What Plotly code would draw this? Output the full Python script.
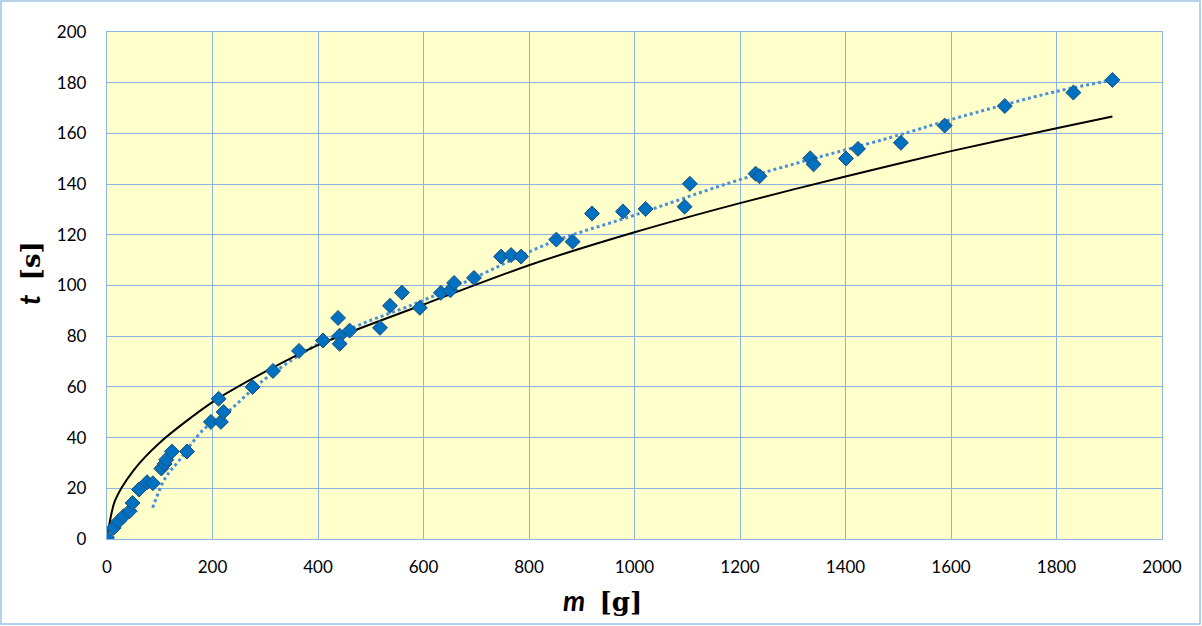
import plotly.graph_objects as go

# measured data: mass m [g] and time t [s]
m_data = [0, 12.5, 22, 31.5, 43, 48.5, 60.6, 76, 87, 103, 109, 112.4, 123, 151.7,
          197, 211.6, 216, 221, 276, 314.7, 364, 409.5, 438, 441, 441, 460,
          517.5, 536.5, 559, 593, 633, 651, 658, 695.7, 747, 766, 785,
          851.8, 882.7, 919.4, 978, 1021, 1095, 1105, 1229.6, 1237,
          1333, 1339.5, 1401, 1423.7, 1505, 1588, 1702, 1832, 1906]
t_data = [0.5, 4.4, 7, 9, 11, 14.2, 19.5, 22.4, 22, 27.8, 29.6, 31.3, 34.5, 34.5,
          46.2, 55.3, 46.2, 50.1, 60, 66.3, 74.2, 78.3, 87.2, 80.2, 77, 82.2,
          83.3, 92, 97.2, 91.2, 97.1, 98.1, 101, 103, 111.4, 112, 111.4,
          118.1, 117.3, 128.4, 129.2, 130.2, 131.1, 140.1, 144.1, 143.1,
          150.2, 147.8, 150.1, 153.9, 156.3, 163.1, 170.8, 176.1, 181.1]

# black model curve
m_model = [0, 15, 50, 100, 200, 300, 400, 600, 800, 1000, 1200, 1400, 1600, 1800, 1906]
t_model = [0, 15, 27, 38, 54, 66, 76.5, 92.5, 108, 121, 132.5, 143, 153, 162, 166.7]

# dotted trend curve
m_trend = [86.5, 110.5, 135.7, 183, 233.7, 293.8, 398, 480, 587.7, 688.7, 840,
           998, 1200.6, 1504, 1598.7, 1801, 1906]
t_trend = [12.3, 24.1, 30.7, 43.2, 51, 62.2, 76.7, 84.6, 93.1, 102.3, 116.8,
           127.6, 141.8, 159.5, 165.4, 176.6, 181]

x_ticks = list(range(0, 2001, 200))
y_ticks = list(range(0, 201, 20))

grid_col = "#8DB4E2"
fig = go.Figure()
fig.add_trace(go.Scatter(x=m_trend, y=t_trend, mode="lines",
                         line=dict(color="#4A90D9", width=3, dash="dot", shape="spline"),
                         showlegend=False, hoverinfo="skip"))
fig.add_trace(go.Scatter(x=m_model, y=t_model, mode="lines",
                         line=dict(color="black", width=2, shape="spline", smoothing=0.8),
                         showlegend=False))
fig.add_trace(go.Scatter(x=m_data, y=t_data, mode="markers",
                         marker=dict(symbol="diamond", size=11.5, color="#0070C0",
                                     line=dict(color="#1F4E79", width=1)),
                         showlegend=False))

L, R, T, B = 107, 40, 32, 87
W, H = 1202, 626
pw, ph = W - L - R, H - T - B


def px_x(p):
    return (p - L) / pw


def px_y(p):
    return (H - B - p) / ph


title_x = ("<b><i>m</i></b>\u00a0\u00a0"
           "<span style='font-family:DejaVu Serif;font-size:26px'><b>[g]</b></span>")
title_y = ("<b><i>t</i></b>\u00a0\u00a0"
           "<span style='font-family:DejaVu Serif;font-size:26px'><b>[s]</b></span>")

fig.update_layout(
    width=W, height=H,
    margin=dict(l=L, r=R, t=T, b=B, autoexpand=False),
    paper_bgcolor="white", plot_bgcolor="#FFFFCC",
    font=dict(family="Lato, Open Sans, sans-serif", size=17, color="black"),
    xaxis=dict(range=[0, 2000], tickvals=x_ticks, ticktext=[str(v) for v in x_ticks],
               showgrid=True, gridcolor=grid_col, gridwidth=1.3,
               showline=True, linecolor=grid_col, linewidth=1.3, mirror=True,
               zeroline=False, ticks="", ticklabelstandoff=12),
    yaxis=dict(range=[0, 200], tickvals=y_ticks, ticktext=[str(v) for v in y_ticks],
               showgrid=True, gridcolor=grid_col, gridwidth=1.3,
               showline=True, linecolor=grid_col, linewidth=1.3, mirror=True,
               zeroline=False, ticks="", ticklabelstandoff=16),
    annotations=[
        dict(text=title_x, xref="paper", yref="paper", x=px_x(602), y=px_y(600),
             xanchor="center", yanchor="middle", showarrow=False, font=dict(size=28)),
        dict(text=title_y, xref="paper", yref="paper", x=px_x(29), y=px_y(273),
             xanchor="center", yanchor="middle", showarrow=False, textangle=-90,
             font=dict(size=28)),
    ],
    shapes=[dict(type="rect", xref="paper", yref="paper",
                 x0=(1 - L) / pw, x1=(W - 2 - L) / pw,
                 y0=(H - B - (H - 2)) / ph, y1=(H - B - 1) / ph,
                 line=dict(color="#9DC3E6", width=1.5), layer="above")],
)
fig.write_html("out.html", config={"displayModeBar": False},
               post_script="document.body.style.margin='0';")
